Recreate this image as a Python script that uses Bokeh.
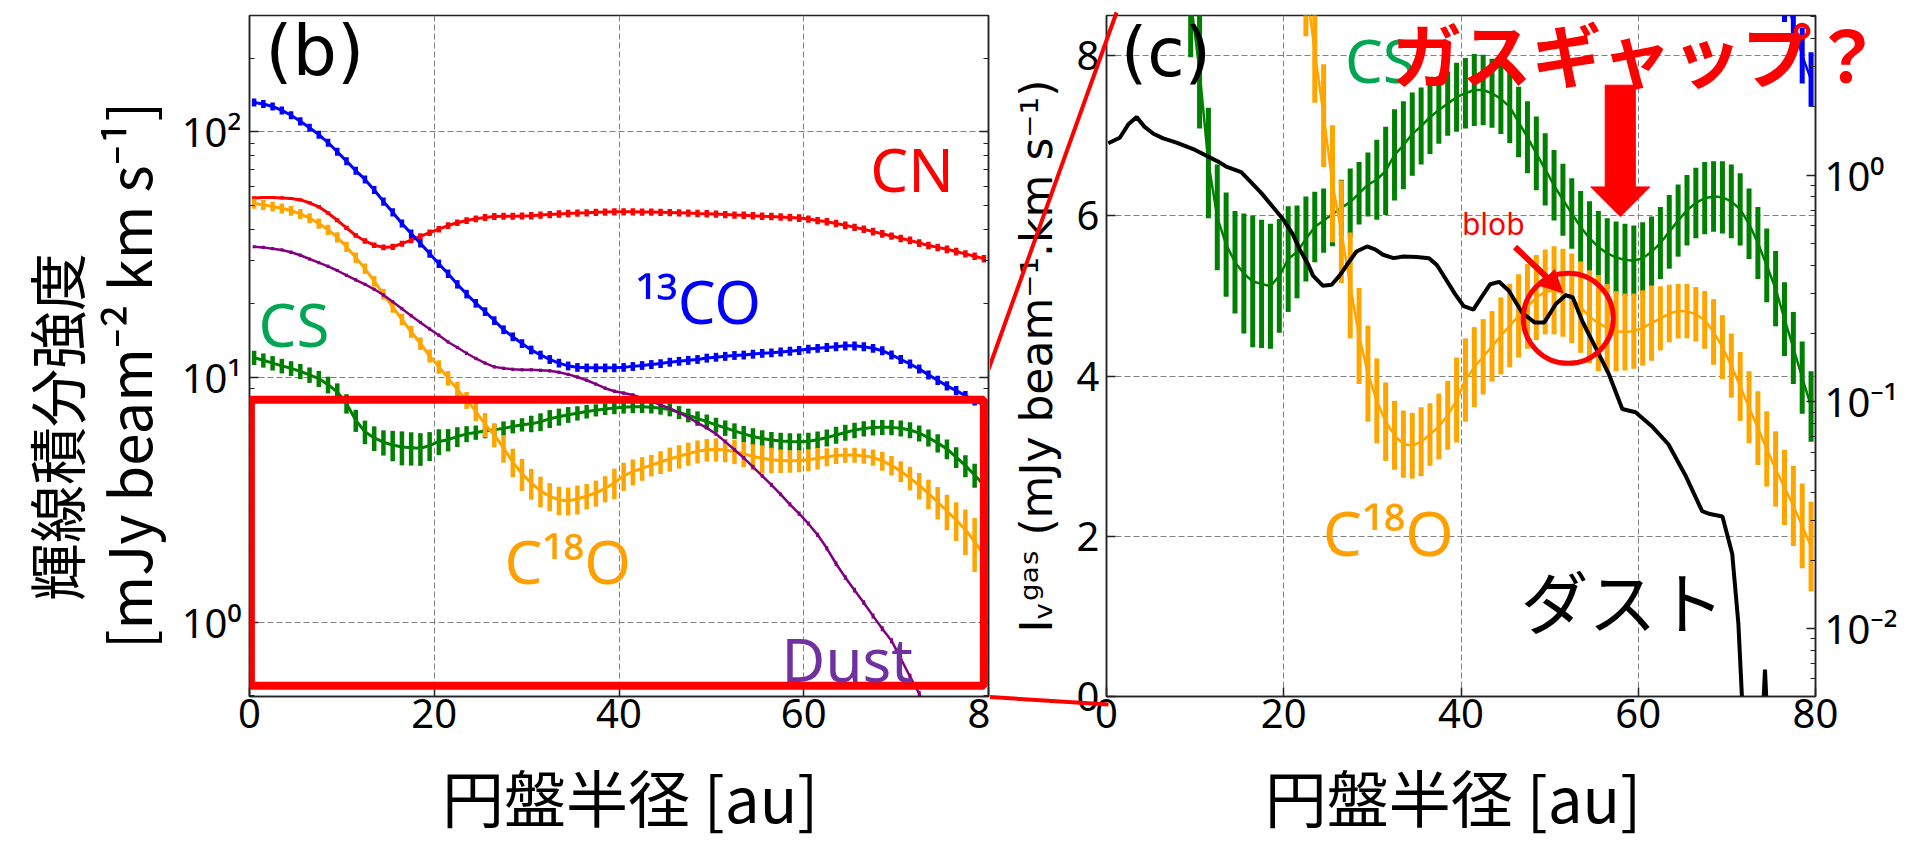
import numpy as np
from bokeh.plotting import figure
from bokeh.models import (LogAxis, Range1d, FixedTicker, Arrow, NormalHead,
                          LogScale, BoxAnnotation)
from bokeh.layouts import row
from bokeh.embed import file_html
from bokeh.resources import INLINE
from bokeh.core.properties import value

# ---------------- data ----------------
radius = np.arange(0.5, 80.0, 1.0)  # sampling radii [au]

cn = [53.8, 54.0, 54.0, 53.8, 53.5, 52.8, 51.4, 49.5, 46.7, 43.6,
      40.6, 37.8, 35.9, 34.5, 33.8, 34.0, 35.0, 36.2, 37.5, 38.8,
      40.1, 41.5, 42.6, 43.5, 44.2, 44.8, 45.2, 45.3, 45.3, 45.4,
      45.5, 45.8, 46.0, 46.3, 46.5, 46.7, 46.8, 47.0, 47.1, 47.2,
      47.2, 47.2, 47.1, 47.1, 47.0, 46.9, 46.8, 46.7, 46.5, 46.4,
      46.2, 46.0, 45.8, 45.7, 45.5, 45.3, 45.2, 45.0, 44.8, 44.5,
      44.1, 43.5, 43.0, 42.3, 41.6, 40.8, 40.1, 39.2, 38.4, 37.6,
      36.8, 36.1, 35.2, 34.4, 33.8, 33.2, 32.5, 31.8, 31.1, 30.4]
cn_err = [0.8, 0.8, 0.8, 0.8, 0.8, 0.8, 0.8, 0.8, 0.8, 0.8,
          0.8, 0.8, 0.9, 0.9, 0.9, 1.0, 1.0, 1.1, 1.1, 1.2,
          1.2, 1.3, 1.3, 1.4, 1.4, 1.5, 1.5, 1.5, 1.5, 1.5,
          1.6, 1.6, 1.6, 1.6, 1.6, 1.6, 1.6, 1.6, 1.6, 1.6,
          1.6, 1.6, 1.6, 1.6, 1.6, 1.6, 1.6, 1.6, 1.6, 1.6,
          1.6, 1.6, 1.6, 1.6, 1.6, 1.6, 1.6, 1.6, 1.6, 1.6,
          1.5, 1.5, 1.5, 1.5, 1.5, 1.4, 1.4, 1.4, 1.4, 1.3,
          1.3, 1.3, 1.3, 1.2, 1.2, 1.2, 1.2, 1.1, 1.1, 1.1]

co13 = [132, 130, 127, 122.5, 117, 110.5, 104, 97.5, 90.5, 83,
        76, 69.5, 64, 58, 52, 47, 42.3, 38.5, 35.1, 31.9,
        29.0, 26.4, 23.9, 21.8, 20.0, 18.5, 17.0, 15.6, 14.6, 13.7,
        12.9, 12.3, 11.8, 11.4, 11.1, 10.95, 10.9, 10.9, 10.9, 10.9,
        10.95, 11.05, 11.15, 11.25, 11.35, 11.5, 11.6, 11.7, 11.8, 11.95,
        12.05, 12.15, 12.25, 12.3, 12.4, 12.5, 12.55, 12.65, 12.75, 12.85,
        13.0, 13.1, 13.2, 13.3, 13.4, 13.4, 13.3, 13.1, 12.8, 12.3,
        11.8, 11.3, 10.8, 10.2, 9.7, 9.2, 8.8, 8.4, 8.0, 7.7]
co13_err = [5.0, 4.9, 4.8, 4.6, 4.4, 4.2, 3.9, 3.7, 3.4, 3.1,
            2.9, 2.6, 2.4, 2.2, 2.0, 1.8, 1.6, 1.5, 1.35, 1.25,
            1.15, 1.05, 0.95, 0.88, 0.81, 0.75, 0.69, 0.64, 0.60, 0.56,
            0.53, 0.51, 0.49, 0.47, 0.46, 0.45, 0.45, 0.45, 0.45, 0.45,
            0.45, 0.46, 0.46, 0.47, 0.47, 0.48, 0.48, 0.49, 0.49, 0.50,
            0.50, 0.51, 0.51, 0.51, 0.52, 0.52, 0.52, 0.53, 0.53, 0.54,
            0.54, 0.55, 0.55, 0.56, 0.56, 0.56, 0.56, 0.55, 0.54, 0.52,
            0.50, 0.48, 0.46, 0.44, 0.42, 0.40, 0.38, 0.36, 0.35, 0.34]

cs = [12.0, 11.7, 11.4, 11.1, 10.85, 10.55, 10.2, 9.85, 9.3, 8.7,
      7.8, 6.66, 5.98, 5.64, 5.42, 5.28, 5.18, 5.15, 5.12, 5.25,
      5.46, 5.55, 5.71, 5.86, 5.94, 6.02, 6.10, 6.17, 6.28, 6.39,
      6.45, 6.56, 6.76, 6.88, 7.02, 7.12, 7.23, 7.32, 7.40, 7.48,
      7.53, 7.57, 7.57, 7.53, 7.46, 7.36, 7.17, 6.98, 6.78, 6.58,
      6.38, 6.20, 6.03, 5.86, 5.72, 5.61, 5.53, 5.48, 5.45, 5.44,
      5.47, 5.55, 5.66, 5.80, 5.94, 6.07, 6.16, 6.22, 6.24, 6.23,
      6.18, 6.08, 5.90, 5.66, 5.38, 5.09, 4.71, 4.35, 3.98, 3.62]
cs_err = [0.80, 0.78, 0.77, 0.76, 0.75, 0.75, 0.74, 0.74, 0.73, 0.72,
          0.71, 0.69, 0.66, 0.65, 0.64, 0.75, 0.82, 0.80, 0.78, 0.71,
          0.66, 0.58, 0.53, 0.44, 0.40, 0.40, 0.35, 0.42, 0.39, 0.40,
          0.50, 0.55, 0.57, 0.55, 0.52, 0.48, 0.46, 0.42, 0.40, 0.43,
          0.44, 0.45, 0.44, 0.43, 0.44, 0.45, 0.44, 0.45, 0.46, 0.45,
          0.44, 0.45, 0.44, 0.45, 0.46, 0.45, 0.44, 0.45, 0.45, 0.44,
          0.45, 0.44, 0.45, 0.46, 0.45, 0.44, 0.44, 0.45, 0.44, 0.45,
          0.46, 0.45, 0.44, 0.45, 0.46, 0.47, 0.46, 0.45, 0.45, 0.44]

c18o = [51.0, 50.4, 49.6, 48.8, 47.7, 46.3, 44.5, 42.3, 39.9, 37.2,
        34.0, 30.7, 27.7, 24.6, 21.8, 19.3, 17.2, 15.3, 13.7, 12.2,
        11.0, 9.9, 8.9, 8.05, 7.25, 6.40, 5.80, 5.13, 4.50, 4.03,
        3.69, 3.43, 3.26, 3.15, 3.13, 3.18, 3.27, 3.37, 3.51, 3.70,
        3.95, 4.11, 4.24, 4.37, 4.50, 4.63, 4.75, 4.87, 4.98, 5.05,
        5.07, 5.04, 4.97, 4.86, 4.74, 4.66, 4.60, 4.56, 4.55, 4.56,
        4.60, 4.66, 4.72, 4.78, 4.81, 4.81, 4.77, 4.70, 4.55, 4.36,
        4.13, 3.87, 3.61, 3.35, 3.09, 2.84, 2.61, 2.38, 2.13, 1.87]
c18o_err = [2.4, 2.4, 2.3, 2.3, 2.2, 2.2, 2.1, 2.0, 1.9, 1.8,
            1.6, 1.5, 1.35, 1.2, 1.1, 1.0, 0.9, 0.85, 0.8, 0.75,
            0.7, 0.68, 0.66, 0.64, 0.64, 0.73, 0.64, 0.66, 0.60, 0.60,
            0.53, 0.49, 0.43, 0.42, 0.41, 0.43, 0.39, 0.41, 0.43, 0.53,
            0.52, 0.50, 0.47, 0.44, 0.48, 0.52, 0.52, 0.53, 0.53, 0.53,
            0.55, 0.55, 0.56, 0.57, 0.58, 0.60, 0.55, 0.50, 0.48, 0.47,
            0.47, 0.47, 0.40, 0.36, 0.34, 0.34, 0.34, 0.36, 0.41, 0.40,
            0.40, 0.43, 0.45, 0.46, 0.47, 0.47, 0.47, 0.50, 0.53, 0.56]

dust_b = [34.0, 33.8, 33.4, 33.0, 32.3, 31.4, 30.3, 29.3, 28.3, 27.2,
          26.0, 24.9, 23.9, 22.8, 21.6, 20.3, 19.0, 17.8, 16.7, 15.7,
          14.8, 13.9, 13.2, 12.5, 11.9, 11.4, 11.0, 10.85, 10.75, 10.7,
          10.7, 10.65, 10.6, 10.45, 10.25, 10.0, 9.7, 9.35, 9.0, 8.75,
          8.6, 8.45, 8.2, 7.95, 7.7, 7.45, 7.15, 6.85, 6.5, 6.2,
          5.85, 5.45, 5.05, 4.68, 4.3, 3.95, 3.63, 3.32, 3.02, 2.77,
          2.52, 2.27, 2.0, 1.73, 1.52, 1.35, 1.2, 1.06, 0.94, 0.84,
          0.71, 0.60, 0.51, 0.42, 0.34, 0.27, 0.21, 0.16, 0.12, 0.09]
dust_b_err = [0.5, 0.5, 0.5, 0.5, 0.5, 0.5, 0.45, 0.45, 0.45, 0.4,
              0.4, 0.4, 0.35, 0.35, 0.35, 0.3, 0.3, 0.3, 0.25, 0.25,
              0.25, 0.22, 0.21, 0.2, 0.19, 0.18, 0.18, 0.17, 0.17, 0.17,
              0.17, 0.17, 0.17, 0.17, 0.16, 0.16, 0.16, 0.15, 0.15, 0.14,
              0.14, 0.14, 0.13, 0.13, 0.13, 0.12, 0.12, 0.11, 0.11, 0.10,
              0.10, 0.09, 0.09, 0.08, 0.08, 0.07, 0.07, 0.06, 0.06, 0.055,
              0.05, 0.045, 0.04, 0.035, 0.032, 0.03, 0.027, 0.025, 0.022, 0.02,
              0.018, 0.015, 0.013, 0.011, 0.009, 0.007, 0.006, 0.005, 0.004, 0.003]

# panel (c) dust profile (right log axis)
dust_c_r = [0.2, 1.5, 2.5, 3.4, 4.3, 5.3, 6.4, 7.9, 10.0, 12.7,
            13.5, 15.2, 16.3, 17.5, 18.5, 19.9, 21.0, 21.8, 22.8, 23.3,
            24.4, 25.4, 26.3, 27.1, 28.2, 29.4, 30.3, 31.2, 32.4, 33.5,
            35.0, 36.4, 37.3, 38.1, 39.3, 40.3, 41.4, 42.2, 43.3, 44.3,
            45.4, 46.9, 48.3, 49.4, 50.7, 51.8, 52.6, 53.7, 55.2, 56.7,
            58.2, 59.7, 61.6, 63.4, 65.3, 67.2, 68.1, 69.5, 70.6, 71.3,
            71.7, 72.2, 73.9, 74.3, 74.7, 80.0]
dust_c = [1.38, 1.46, 1.68, 1.80, 1.63, 1.52, 1.45, 1.39, 1.29, 1.14,
          1.09, 1.03, 0.93, 0.83, 0.745, 0.64, 0.55, 0.47, 0.40, 0.36,
          0.325, 0.328, 0.36, 0.40, 0.46, 0.484, 0.47, 0.445, 0.43, 0.437,
          0.435, 0.43, 0.40, 0.357, 0.30, 0.264, 0.255, 0.285, 0.330, 0.338,
          0.309, 0.247, 0.224, 0.224, 0.270, 0.295, 0.289, 0.226, 0.173, 0.132,
          0.093, 0.090, 0.0776, 0.065, 0.0476, 0.0330, 0.0320, 0.0312, 0.0214, 0.0105,
          0.005, 0.003, 0.003, 0.0066, 0.003, 0.003]

x_ticks = [0, 20, 40, 60, 80]
x_labels_b = {80: "8"}
logb_ticks = [1, 10, 100]
logb_labels = {1: "10⁰", 10: "10¹", 100: "10²"}
logb_minor = [0.5, 0.6, 0.7, 0.8, 0.9, 2, 3, 4, 5, 6, 7, 8, 9,
              20, 30, 40, 50, 60, 70, 80, 90, 200, 300]
linc_ticks = [0, 2, 4, 6, 8]
logc_ticks = [0.01, 0.1, 1]
logc_labels = {0.01: "10⁻²", 0.1: "10⁻¹", 1: "10⁰"}
logc_minor = [0.006, 0.007, 0.008, 0.009, 0.02, 0.03, 0.04, 0.05, 0.06, 0.07,
              0.08, 0.09, 0.2, 0.3, 0.4, 0.5, 0.6, 0.7, 0.8, 0.9, 2, 3, 4, 5]

RED, BLUE, GREEN, ORANGE, PURPLE = "#ff0000", "#0000ff", "#008000", "#ffa500", "#800080"
JP = "Noto Sans CJK JP"
LAT = "Noto Sans"
TICK_FS = "40px"
XLABEL = "円盤半径 [au]"


def style_axis(ax):
    ax.major_label_text_font = LAT
    ax.major_label_text_font_size = TICK_FS
    ax.major_label_text_color = "black"
    ax.major_tick_in = 9
    ax.major_tick_out = 0
    ax.minor_tick_in = 5
    ax.minor_tick_out = 0
    ax.axis_line_color = "#222222"
    ax.axis_line_width = 1.5
    ax.major_tick_line_color = "#222222"
    ax.minor_tick_line_color = "#222222"
    ax.major_tick_line_width = 1.5
    ax.axis_label_text_font_style = "normal"
    ax.axis_label_text_color = "black"


def style_grid(p):
    for g in (p.xgrid[0], p.ygrid[0]):
        g.grid_line_color = "#808080"
        g.grid_line_dash = "6 3"
        g.grid_line_width = 1


def series(p, x, y, err, color, lw=2.5, elw=4.0, **kw):
    lo = [a - b for a, b in zip(y, err)]
    hi = [a + b for a, b in zip(y, err)]
    p.segment(x0=x, y0=lo, x1=x, y1=hi, line_color=color, line_width=elw, **kw)
    p.line(x, y, line_color=color, line_width=lw, **kw)


def txt(p, x, y, s, color, size, font=LAT, align="left", baseline="middle",
        style="normal", level="overlay"):
    p.text(x=[x], y=[y], text=[s], text_color=color, text_font=value(font),
           text_font_size=value(size), text_font_style=value(style),
           text_align=align, text_baseline=baseline, level=level)


# ---------------- panel (b) ----------------
W1, H = 990, 842
p1 = figure(width=W1, height=H, x_range=Range1d(0, 80), y_range=Range1d(0.497, 298.6),
            y_axis_type="log", output_backend="svg", toolbar_location=None,
            min_border_left=249, min_border_right=2, min_border_top=11, min_border_bottom=146)
p1.outline_line_color = "#222222"
p1.outline_line_width = 1.5

p1.xaxis.ticker = FixedTicker(ticks=x_ticks)
p1.xaxis.major_label_overrides = x_labels_b
p1.yaxis.ticker = FixedTicker(ticks=logb_ticks, minor_ticks=logb_minor)
p1.yaxis.major_label_overrides = logb_labels
for ax in (p1.xaxis[0], p1.yaxis[0]):
    style_axis(ax)
p1.xaxis.major_label_standoff = 2
p1.yaxis.major_label_standoff = 8
p1.yaxis.axis_label = "輝線積分強度\u3000\u3000  \n[mJy beam⁻² km s⁻¹]   "
p1.yaxis.axis_label_text_font = JP
p1.yaxis.axis_label_text_font_size = "58px"
p1.yaxis.axis_label_text_line_height = 0.85
p1.yaxis.axis_label_standoff = 10
style_grid(p1)

rax1 = LogAxis(ticker=FixedTicker(ticks=logb_ticks, minor_ticks=logb_minor))
style_axis(rax1)
rax1.major_label_text_font_size = "2px"
rax1.major_label_text_color = None
rax1.major_label_standoff = 0
p1.add_layout(rax1, "right")

series(p1, radius, cn, cn_err, RED, lw=3, elw=4.5)
series(p1, radius, co13, co13_err, BLUE, lw=3, elw=4.5)
series(p1, radius, cs, cs_err, GREEN, lw=3, elw=4.5)
series(p1, radius, c18o, c18o_err, ORANGE, lw=3, elw=4.5)
series(p1, radius, dust_b, dust_b_err, PURPLE, lw=2.5, elw=3.0)

p1.add_layout(BoxAnnotation(left=0.15, right=79.5, bottom=0.55, top=8.07,
                            fill_alpha=0, line_color=RED, line_alpha=1.0, line_width=8))

txt(p1, 1.7, 213, "(b)", "black", "70px", font="DejaVu Sans")
txt(p1, 67.2, 70.8, "CN", RED, "60px")
txt(p1, 41.8, 20.5, "¹³CO", BLUE, "60px")
txt(p1, 0.97, 16.5, "CS", "#00a651", "60px")
txt(p1, 27.6, 1.77, "C¹⁸O", "#ff9f00", "60px")
txt(p1, 57.6, 0.708, "Dust", "#7030a0", "60px")
# x-axis title, drawn below the frame
txt(p1, 41.2, 0.1952, XLABEL, "black", "62px", font=JP, align="center")

# ---------------- panel (c) ----------------
W2 = 925
FL2, FR2, FT2, FB2 = 116, 100, 15, 144
p2 = figure(width=W2, height=H, x_range=Range1d(0, 80), y_range=Range1d(0, 8.5),
            output_backend="svg", toolbar_location=None,
            min_border_left=FL2, min_border_right=FR2, min_border_top=FT2, min_border_bottom=FB2)
p2.outline_line_color = "#222222"
p2.outline_line_width = 1.5
p2.extra_y_ranges = {"dust": Range1d(0.00502, 5.05)}
p2.extra_y_scales = {"dust": LogScale()}

p2.xaxis.ticker = FixedTicker(ticks=x_ticks)
p2.yaxis.ticker = FixedTicker(ticks=linc_ticks)
for ax in (p2.xaxis[0], p2.yaxis[0]):
    style_axis(ax)
p2.xaxis.major_label_standoff = 2
p2.yaxis.major_label_standoff = 7
p2.yaxis.axis_label = "Iᵥᵍᵃˢ (mJy beam⁻¹.km s⁻¹)"
p2.yaxis.axis_label_text_font = "DejaVu Sans"
p2.yaxis.axis_label_text_font_size = "44px"
p2.yaxis.axis_label_standoff = 12
style_grid(p2)

rax2 = LogAxis(y_range_name="dust", ticker=FixedTicker(ticks=logc_ticks, minor_ticks=logc_minor))
style_axis(rax2)
rax2.major_label_overrides = logc_labels
rax2.major_label_standoff = 9
p2.add_layout(rax2, "right")

series(p2, radius, cs, cs_err, GREEN, lw=2.5, elw=5)
series(p2, radius, c18o, c18o_err, ORANGE, lw=2.5, elw=5)
series(p2, radius, co13, co13_err, BLUE, lw=2.5, elw=5)
p2.line(dust_c_r, dust_c, y_range_name="dust", line_color="black", line_width=4)

# pixel -> data helper for the zoom connectors (decoration only)
PXU = (W2 - FL2 - FR2) / 80.0
PYU = (H - FT2 - FB2) / 8.5


def to_c(cx, cy):
    return (cx - FL2) / PXU, (H - FB2 - cy) / PYU


ux0, uy0 = to_c(-2, 370)
ux1, uy1 = to_c(126, 12)
lx0, ly0 = to_c(-10, 698)
lx1, ly1 = to_c(118, 706)
p2.segment(x0=[ux0, lx0], y0=[uy0, ly0], x1=[ux1, lx1], y1=[uy1, ly1],
           line_color=RED, line_width=4, level="overlay")

# big arrow pointing at the gas gap
tip_x, tip_y = 57.97, 5.99
head_base, shaft_top = 6.36, 7.63
head_hw, shaft_hw = 3.33, 1.7
p2.patch(x=[tip_x - shaft_hw, tip_x + shaft_hw, tip_x + shaft_hw, tip_x + head_hw, tip_x,
            tip_x - head_hw, tip_x - shaft_hw],
         y=[shaft_top, shaft_top, head_base, head_base, tip_y, head_base, head_base],
         fill_color=RED, line_color=RED, line_width=1)

p2.add_layout(Arrow(end=NormalHead(size=22, fill_color=RED, line_color=RED),
                    x_start=46.1, y_start=5.61, x_end=51.5, y_end=5.04,
                    line_color=RED, line_width=6))
p2.scatter(x=[52.1], y=[4.72], size=90, marker="circle", fill_alpha=0,
           line_color=RED, line_width=5)

txt(p2, 1.6, 8.04, "(c)", "black", "68px", font="DejaVu Sans")
txt(p2, 26.9, 7.95, "CS", "#00a651", "60px")
txt(p2, 32.2, 8.04, "ガスギャップ？", RED, "70px", font=JP, style="bold")
txt(p2, 40.1, 5.90, "blob", RED, "30px")
txt(p2, 24.4, 2.05, "C¹⁸O", "#ff9f00", "62px")
txt(p2, 46.7, 1.21, "ダスト", "black", "68px", font=JP)
# x-axis title, drawn below the frame
txt(p2, 39.1, -1.24, XLABEL, "black", "62px", font=JP, align="center")

layout = row(p1, p2, spacing=0)
html = file_html(layout, INLINE, "Chart")
open("out.html", "w").write(html)
